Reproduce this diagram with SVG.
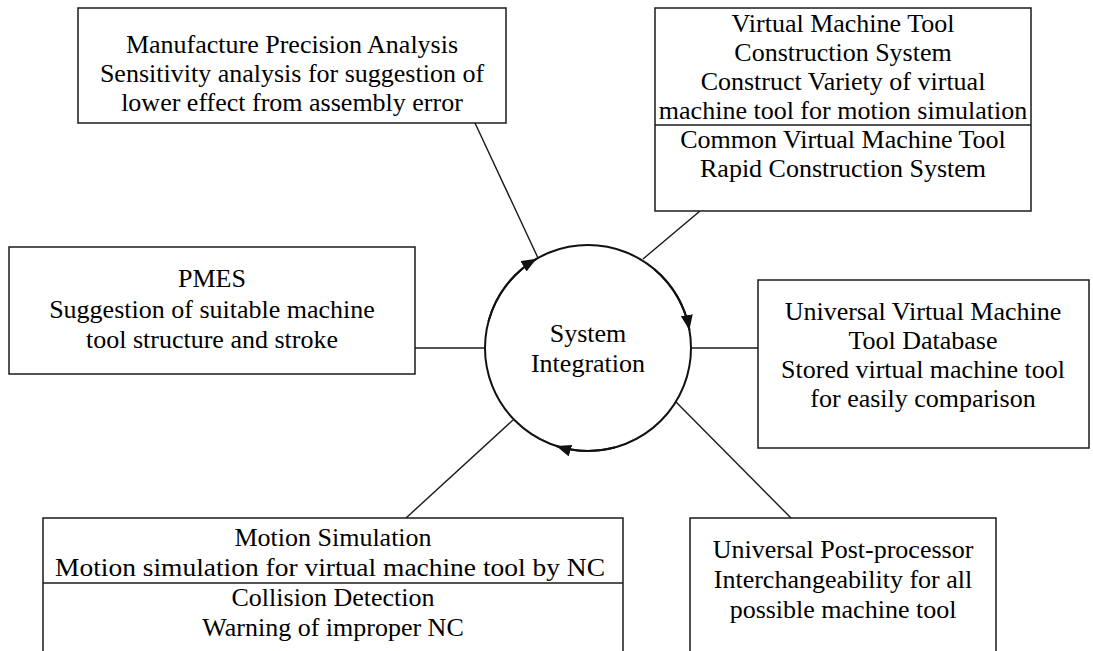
<svg xmlns="http://www.w3.org/2000/svg" width="1093" height="651" viewBox="0 0 1093 651">
  <style>
    .box { fill: #ffffff; stroke: #1a1a1a; stroke-width: 1.5; }
    .div { stroke: #1a1a1a; stroke-width: 1.5; }
    .t { font-family: "Liberation Serif", "Times New Roman", serif; font-size: 26px; fill: #000; text-anchor: middle; }
    .link { stroke: #1a1a1a; stroke-width: 1.4; fill: none; }
    .ring { stroke: #111; stroke-width: 2; fill: #ffffff; }
    .flow { stroke: #111; stroke-width: 2; fill: none; marker-end: url(#head); }
  </style>
  <defs>
    <marker id="head" markerUnits="userSpaceOnUse" markerWidth="16" markerHeight="12" refX="15" refY="6" orient="auto">
      <path d="M0,0 L15,6 L0,12 Z" fill="#111"/>
    </marker>
  </defs>
  <rect width="1093" height="651" fill="#ffffff"/>

  <!-- spokes from the hub to each module -->
  <g id="connectors">
    <line class="link" x1="475" y1="123" x2="538" y2="258"/>
    <line class="link" x1="700" y1="211" x2="643" y2="259"/>
    <line class="link" x1="415" y1="348" x2="486" y2="348"/>
    <line class="link" x1="691" y1="348" x2="758" y2="348"/>
    <line class="link" x1="406" y1="518" x2="513" y2="420"/>
    <line class="link" x1="676" y1="402" x2="791" y2="518"/>
  </g>

  <!-- central hub with clockwise flow arrows -->
  <g id="hub">
    <circle class="ring" cx="588" cy="348" r="103"/>
    <path class="flow" d="M488.5,321.3 A103,103 0 0 1 536.5,258.8"/>
    <path class="flow" d="M654.2,269.1 A103,103 0 0 1 689.4,330.1"/>
    <path class="flow" d="M614.7,447.5 A103,103 0 0 1 556.2,446"/>
    <text class="t" x="588" y="342">System</text>
    <text class="t" x="588" y="372">Integration</text>
  </g>

  <g id="precision">
    <rect class="box" x="78" y="8" width="428" height="115"/>
    <text class="t" x="292" y="53">Manufacture Precision Analysis</text>
    <text class="t" x="292" y="82">Sensitivity analysis for suggestion of</text>
    <text class="t" x="292" y="111">lower effect from assembly error</text>
  </g>

  <g id="construction">
    <rect class="box" x="655" y="8" width="376" height="203"/>
    <line class="div" x1="655" y1="125" x2="1031" y2="125"/>
    <text class="t" x="843" y="32">Virtual Machine Tool</text>
    <text class="t" x="843" y="61">Construction System</text>
    <text class="t" x="843" y="90">Construct Variety of virtual</text>
    <text class="t" x="843" y="119">machine tool for motion simulation</text>
    <text class="t" x="843" y="148">Common Virtual Machine Tool</text>
    <text class="t" x="843" y="177">Rapid Construction System</text>
  </g>

  <g id="pmes">
    <rect class="box" x="9" y="247" width="406" height="127"/>
    <text class="t" x="212" y="287">PMES</text>
    <text class="t" x="212" y="318">Suggestion of suitable machine</text>
    <text class="t" x="212" y="348">tool structure and stroke</text>
  </g>

  <g id="database">
    <rect class="box" x="758" y="280" width="331" height="168"/>
    <text class="t" x="923" y="320">Universal Virtual Machine</text>
    <text class="t" x="923" y="349">Tool Database</text>
    <text class="t" x="923" y="378">Stored virtual machine tool</text>
    <text class="t" x="923" y="407">for easily comparison</text>
  </g>

  <g id="simulation">
    <rect class="box" x="43" y="518" width="580" height="140"/>
    <line class="div" x1="43" y1="583" x2="623" y2="583"/>
    <text class="t" x="333" y="546">Motion Simulation</text>
    <text class="t" x="330" y="576" textLength="550" lengthAdjust="spacingAndGlyphs">Motion simulation for virtual machine tool by NC</text>
    <text class="t" x="333" y="606">Collision Detection</text>
    <text class="t" x="333" y="636">Warning of improper NC</text>
  </g>

  <g id="postprocessor">
    <rect class="box" x="690" y="518" width="306" height="140"/>
    <text class="t" x="843" y="558">Universal Post-processor</text>
    <text class="t" x="843" y="588">Interchangeability for all</text>
    <text class="t" x="843" y="618">possible machine tool</text>
  </g>
</svg>
